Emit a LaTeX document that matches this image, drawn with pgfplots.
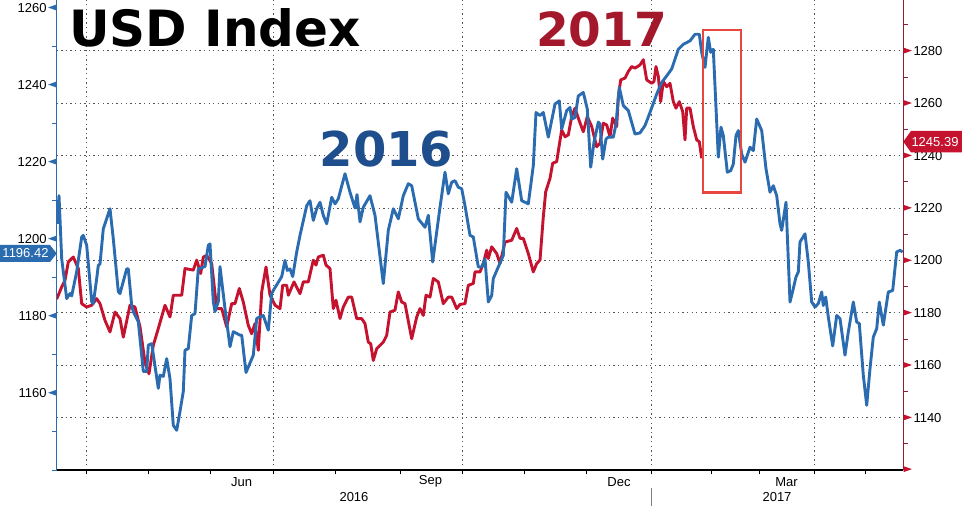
\documentclass[border=0pt]{standalone}
\usepackage{pgfplots}
\pgfplotsset{compat=1.18}
\usepackage{pgfplotstable}
\usepackage{fontspec}
\setmainfont{Liberation Sans}
\newfontfamily\dejavu{DejaVu Sans}

\definecolor{cblue}{HTML}{2B6CB0}
\definecolor{cred}{HTML}{C4122F}
\definecolor{tblue}{HTML}{1F4E8C}
\definecolor{tred}{HTML}{A3182B}
\definecolor{boxred}{HTML}{E8473F}
\definecolor{axred}{HTML}{8E1F30}
\definecolor{gridc}{HTML}{555555}

% x = position along the date axis, y = index level
% blue series, left axis
\pgfplotstableread{
x y
57 1203.9
59 1211.2
61.7 1194.8
66.7 1184.5
70 1185.8
71.7 1185.2
76.7 1191.5
81.7 1200.5
83.3 1200.9
86.7 1198.3
91.7 1183.7
93.3 1183.2
96.7 1189.7
98.3 1193.1
100 1193.5
103.3 1202.6
110 1207.8
113.3 1200.0
118.3 1186.3
120 1185.8
126.7 1192.2
128.3 1192.2
131.7 1182.7
133.3 1181.1
138.3 1178.5
143.3 1165.6
146.7 1165.6
148.3 1172.4
151.7 1172.8
158.3 1161.2
160 1164.6
163.3 1164.3
166.7 1168.9
170 1163.7
173.3 1151.6
176.7 1150.3
180 1155.2
183.3 1160.4
185 1171.1
188.3 1171.5
191.7 1180.1
195 1180.6
198.3 1192.2
205 1192.8
208.3 1198.3
210 1198.7
213.3 1183.7
215 1181.1
218.3 1183.7
220 1192.8
225 1181.9
230 1172.0
233.3 1175.9
240 1175.0
241.7 1175.0
246 1165.3
253.3 1169.8
256.7 1179.3
260 1179.8
263.3 1180.1
268.3 1176.3
271.7 1185.8
273.3 1186.6
281.7 1190.2
285 1194.4
287.3 1191.8
290 1192.2
292.7 1190.2
296.7 1196.6
300 1200.9
306.7 1208.6
310 1209.9
313.3 1204.8
316.7 1207.8
320 1209.5
323.3 1206.1
326.7 1203.9
331.7 1210.8
335 1209.1
338.3 1210.4
345 1216.9
350 1212.1
355 1208.0
357 1211.5
360 1204.4
363.3 1208.2
370 1211.2
375 1206.1
383.3 1188.4
388.3 1202.2
393.3 1207.8
398.3 1205.2
403.3 1211.2
408.3 1214.3
411.7 1213.8
415 1209.5
418.3 1205.2
425 1203.0
428.3 1206.1
432.7 1194.0
440 1208.2
445 1217.3
448.3 1211.7
451.7 1214.7
455 1215.1
458.3 1213.4
461.7 1213.0
465 1208.6
470 1200.9
473.3 1200.5
478.3 1192.7
481.7 1192.7
485 1194.8
488.3 1183.6
491.7 1185.3
493.3 1189.7
498.3 1192.7
503.3 1195.7
506 1212.1
511.7 1209.5
516.7 1218.2
521.7 1209.9
528.3 1209.1
533.3 1219.0
536 1232.8
540 1232.0
543.3 1232.8
548.3 1226.4
555 1235.0
559.3 1235.8
561.7 1228.5
566.7 1233.3
570 1234.1
571.7 1231.1
575 1231.5
578.3 1237.1
583.3 1238.0
587.3 1233.7
590.7 1218.6
594 1225.1
598.3 1230.3
600 1229.8
602.7 1220.7
606 1225.9
608.3 1226.4
613.3 1226.4
616 1229.8
619.3 1239.3
623.3 1234.6
628.3 1233.3
635 1227.2
640 1227.5
645 1229.4
650 1232.8
656.7 1237.6
661.7 1240.6
666.7 1242.3
671.7 1244.1
678.3 1249.2
683.3 1250.5
690 1251.4
695 1253.1
699.3 1253.1
701.7 1248.4
705 1244.5
708.3 1252.3
710.7 1248.4
713.3 1249.2
718.3 1221.2
721 1229.0
723.3 1226.8
727.3 1217.3
730.7 1217.7
733.3 1219.4
736 1226.8
738.3 1228.1
741.7 1222.0
745 1219.9
750 1223.8
753.3 1222.9
756.7 1231.1
761.7 1228.1
766 1218.2
770 1212.1
773.3 1213.8
776.7 1211.2
780 1203.9
781.7 1202.2
786 1209.5
790 1183.6
793.3 1187.1
796 1190.1
798.3 1191.4
800 1199.2
805 1201.3
808.3 1194.0
811.7 1183.6
815 1182.3
818.3 1183.2
821.7 1186.2
823.3 1182.7
825.7 1184.9
828.3 1179.7
832.7 1172.2
836.7 1180.1
840 1179.3
845 1169.8
848.3 1175.8
853.3 1183.6
856.7 1178.4
859.3 1178.0
863.3 1164.6
866.7 1156.8
870 1166.3
873.3 1174.5
876.7 1176.7
879.3 1183.6
883.3 1177.6
888.3 1186.2
892.7 1186.6
896.7 1196.6
900 1197.0
902.7 1196.6
}\bluedata

% red series, right axis
\pgfplotstableread{
x y
56.7 1185.2
61.7 1189.9
65 1192.4
68.3 1199.4
73.3 1201.3
78.3 1196.9
81.7 1183.5
86.7 1182.2
91.7 1182.9
96.7 1185.4
100 1183.5
105 1177.1
110 1172.7
115 1180.3
120 1177.8
123.3 1170.7
130 1182.9
135 1182.2
140 1174.6
145 1161.2
149 1156.7
153.3 1167.6
158.3 1174.0
165 1182.9
170 1178.4
173.3 1186.7
181.7 1186.7
185 1196.9
193.3 1196.3
196.7 1200.1
200.7 1195.0
203.3 1201.3
206.7 1201.9
211.7 1198.8
216.7 1181.6
221.7 1181.6
226.7 1174.6
231.7 1183.5
235 1183.5
239.3 1189.3
243.3 1184.1
248.3 1175.2
251.7 1172.0
255 1175.9
258.3 1165.7
261.7 1188.0
266 1197.5
270 1186.7
275 1182.9
280 1181.6
282.7 1190.5
286.7 1190.5
288.3 1186.7
294 1191.8
300 1187.3
303.3 1191.8
308.3 1191.8
313.3 1200.1
316 1198.2
318.3 1201.3
323.3 1202.0
326 1198.2
330 1196.9
333.3 1181.6
336 1184.8
340 1177.8
343.3 1182.2
348.3 1186.0
351.7 1186.0
356.7 1177.8
361.7 1177.8
365 1175.9
368.3 1168.8
370.7 1168.2
373.3 1161.8
376.7 1166.3
383.3 1168.8
386.7 1171.4
390 1180.3
395 1181.0
398.3 1188.0
401.7 1184.1
405 1183.5
411.7 1170.1
416.7 1178.4
420 1181.6
423.3 1179.0
426 1186.7
430 1186.0
433.3 1193.1
438.3 1191.8
443.3 1183.5
448.3 1186.0
451.7 1186.0
456.7 1181.6
460 1183.2
465 1183.5
468.3 1190.5
473.3 1191.2
475 1195.6
480 1195.6
483.3 1198.8
486.7 1203.9
488.3 1200.7
491.7 1205.2
496.7 1202.6
500 1198.8
505 1207.0
511.7 1207.7
516.7 1212.2
520 1208.4
523.3 1208.4
528.3 1202.6
533.3 1195.6
536.7 1198.8
540 1200.1
543.3 1216.6
545.7 1226.2
550 1231.3
552.7 1237.1
556.7 1237.7
559.3 1244.1
561.7 1249.8
565 1247.2
568.3 1247.9
571.7 1254.9
575 1258.1
578.3 1254.3
583.3 1249.1
587.3 1254.9
591.7 1251.1
596.7 1243.4
600 1244.7
603.3 1252.4
606.7 1251.7
610 1247.2
612.7 1254.3
616.7 1251.1
618.3 1262.5
620.7 1268.9
625 1269.6
628.3 1272.1
631.7 1274.0
635 1273.4
640 1274.6
643.3 1276.6
646.7 1268.9
651.7 1267.6
654 1268.3
656 1274.0
658.3 1270.2
660.7 1260.6
663.3 1268.3
666.7 1266.3
670 1267.6
673.3 1260.6
676 1258.1
679.3 1260.6
682.7 1256.8
685 1246.0
686.7 1258.1
690 1258.1
693.3 1251.1
696.7 1246.0
699.3 1245.3
701.7 1239.0
}\reddata

\newcommand\ltri{\tikz[baseline=-0.36em]\fill[cblue] (0,0)--(8.4pt,3pt)--(8.4pt,-3pt)--cycle;}
\newcommand\rtri{\tikz[baseline=-0.36em]\fill[cred] (0,3pt)--(8.4pt,0)--(0,-3pt)--cycle;}

\begin{document}
\begin{tikzpicture}[font=\fontsize{13}{15}\selectfont]
\pgfplotsset{
  base/.style={
    at={(0,0)}, anchor=south west,
    scale only axis, width=846.6pt, height=470pt,
    xmin=56.7, xmax=903.3,
    /pgf/number format/assume math mode=true,
    /pgf/number format/1000 sep={},
    tick label style={font=\fontsize{13}{15}\selectfont},
    major tick length=0pt, minor tick length=4.5pt, tick align=outside,
  },
}
% right axis: red line, grids, date ticks
\begin{axis}[base,
  ymin=1120, ymax=1299.4,
  axis y line*=right, axis x line*=bottom,
  x axis line style={black, line width=1.2pt, -},
  y axis line style={axred, line width=1pt, -},
  xtick={86.7,273.3,462.7,651.7,814.3},
  xticklabels={},
  minor xtick={86.7,148.3,210,273.3,335,400,462.7,524,586.7,651.7,711.7,759.3,814.3,865.7},
  xtick style={black, line width=0.8pt},
  ytick={1140,1160,...,1280},
  minor ytick={1130,1150,...,1290},
  ytick style={axred, line width=0.8pt},
  extra y ticks={1120},
  extra y tick labels={\rtri},
  extra y tick style={grid=none},
  xmajorgrids, ymajorgrids,
  grid style={gridc, line width=0.9pt, dash pattern=on 1.3pt off 3.3pt},
  yticklabel style={anchor=west, inner sep=0pt},
  yticklabel={\rtri\hspace{1.6pt}\pgfmathprintnumber{\tick}},
]
\addplot[cred, line width=2.9pt, line join=round] table {\reddata};
\end{axis}
% left axis: blue line
\begin{axis}[base,
  ymin=1140, ymax=1262,
  axis y line*=left, axis x line=none,
  y axis line style={cblue, line width=1pt, -},
  ytick={1160,1180,...,1260},
  minor ytick={1140,1150,1170,1190,1210,1230,1250},
  ytick style={cblue, line width=0.8pt},
  yticklabel style={anchor=east, inner sep=0pt},
  yticklabel={\pgfmathprintnumber{\tick}\hspace{1.6pt}\ltri},
]
\addplot[cblue, line width=2.9pt, line join=round] table {\bluedata};
\end{axis}
% annotations, in picture pixels from the top left
\begin{scope}[x=1pt, y=-1pt, shift={(-56.7pt,470pt)}]
  \node[anchor=base west, inner sep=0pt, font=\dejavu\bfseries\fontsize{50}{56}\selectfont] at (69,46.7) {USD Index};
  \node[anchor=base west, inner sep=0pt, text=tblue, font=\dejavu\bfseries\fontsize{48}{54}\selectfont] at (319.5,166.7) {2016};
  \node[anchor=base west, inner sep=0pt, text=tred, font=\dejavu\bfseries\fontsize{47}{54}\selectfont] at (536,46.7) {2017};
  \draw[boxred, line width=2.4pt] (702.7,30) rectangle (740.7,192.7);
  \node at (241.7,481.7) {Jun};
  \node at (430.5,481.7) {Sep};
  \node at (619,481.7) {Dec};
  \node at (786.5,481.7) {Mar};
  \node at (354,497) {2016};
  \node at (777,497) {2017};
  \draw[gray, line width=0.8pt] (651.7,488) -- (651.7,506);
  \fill[cblue] (0,245) -- (50,245) -- (56.7,253.5) -- (50,262) -- (0,262) -- cycle;
  \node[text=white] at (25.5,253.5) {1196.42};
  \fill[cred] (903.3,141.7) -- (911,131) -- (962,131) -- (962,152.4) -- (911,152.4) -- cycle;
  \node[text=white] at (935,141.7) {1245.39};
  \pgfresetboundingbox
  \path (0,0) rectangle (962,506);
\end{scope}
\end{tikzpicture}
\end{document}
